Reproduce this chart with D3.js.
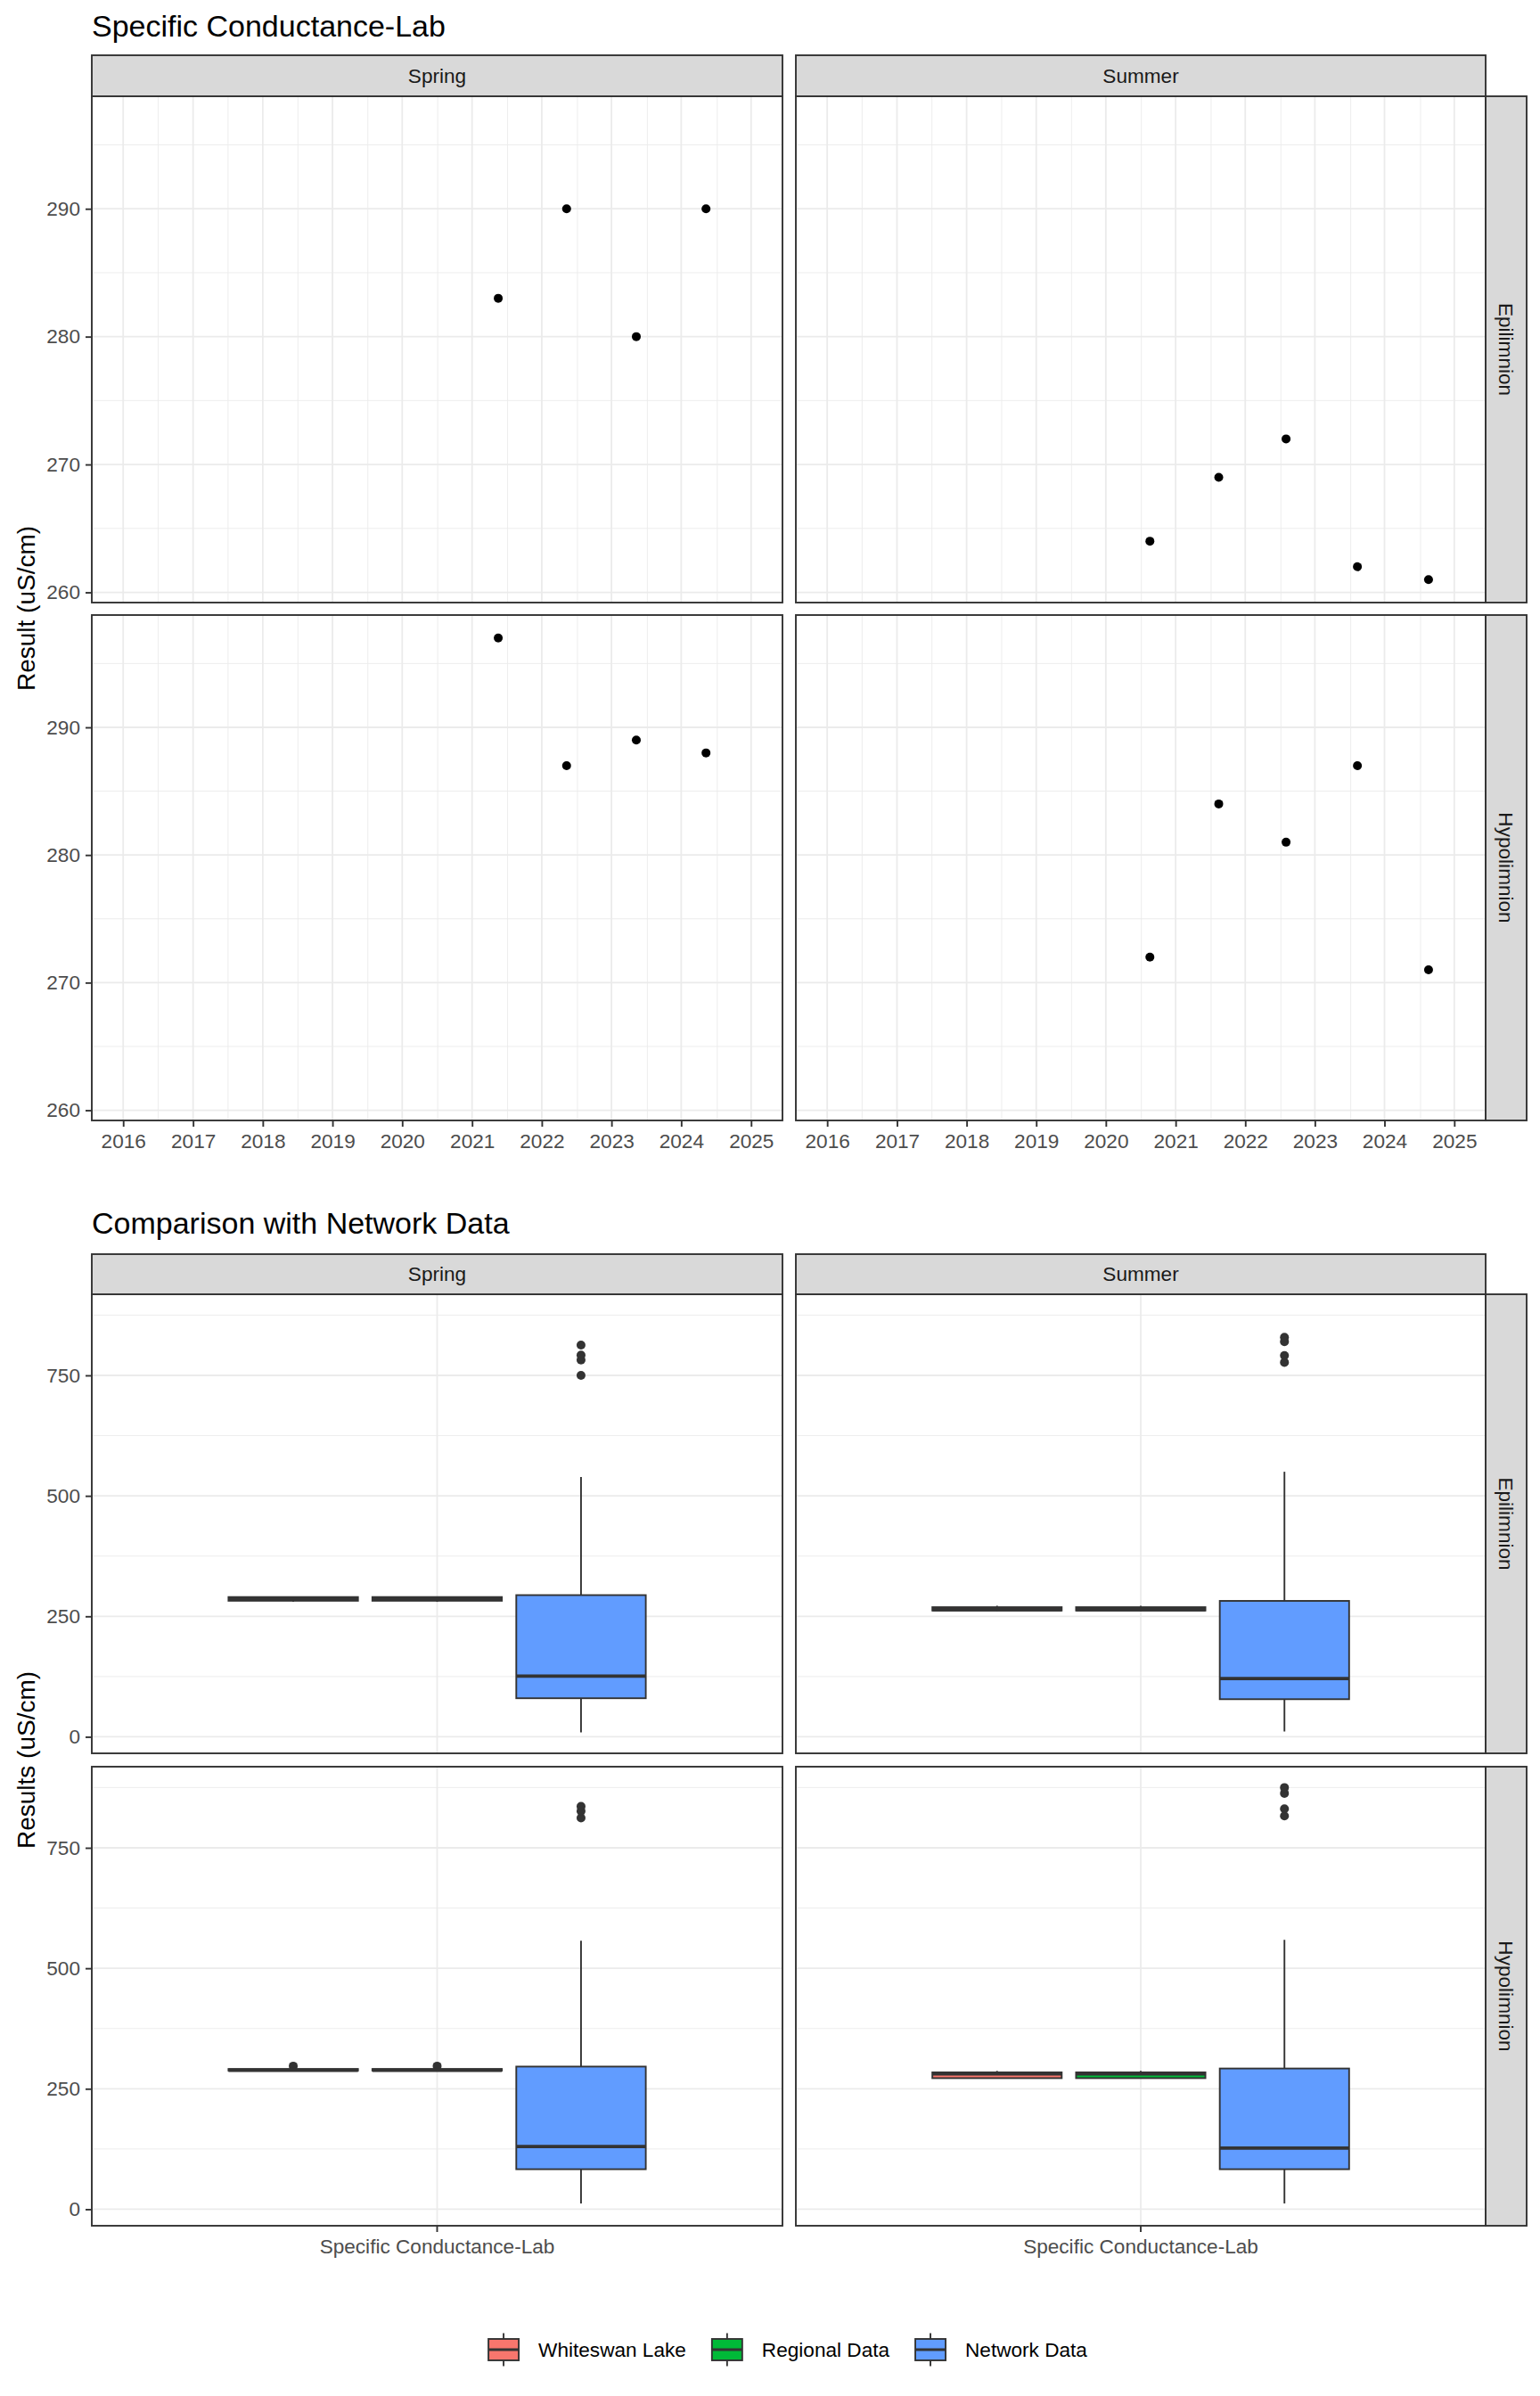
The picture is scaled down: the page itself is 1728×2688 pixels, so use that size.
<!DOCTYPE html>
<html>
<head>
<meta charset="utf-8">
<script src="https://cdn.jsdelivr.net/npm/d3@7"></script>
<style>
  body { margin: 0; background: #fff; }
  svg { display: block; }
  text { font-family: "Liberation Sans", Arial, Helvetica, sans-serif; }
</style>
</head>
<body>
<svg width="1728" height="2688"></svg>
<script>
// ---- data ----
const seasons = ['Spring', 'Summer'];
const layers = ['Epilimnion', 'Hypolimnion'];
const springDates = ['2021-05-18', '2022-05-11', '2023-05-11', '2024-05-10'];
const summerDates = ['2020-08-19', '2021-08-15', '2022-08-03', '2023-08-12', '2024-08-19'];
const springEpi = [283, 290, 280, 290];
const springHypo = [297, 287, 289, 288];
const summerEpi = [264, 269, 272, 262, 261];
const summerHypo = [272, 284, 281, 287, 271];
const yearTicks = [2016, 2017, 2018, 2019, 2020, 2021, 2022, 2023, 2024, 2025];
const resultTicks = [260, 270, 280, 290];

const parameters = ['Specific Conductance-Lab'];
const groups = ['Whiteswan Lake', 'Regional Data', 'Network Data'];
const groupColors = ['#F8766D', '#00BA38', '#619CFF'];
const comparisonTicks = [0, 250, 500, 750];
// network data summaries: [lower whisker, q1, median, q3, upper whisker]
const networkSpringEpi = [9, 80, 126, 294, 539];
const networkSpringEpiOut = [750, 782, 792, 813];
const networkSummerEpi = [11, 78, 121, 282, 550];
const networkSummerEpiOut = [777, 791, 820, 829];
const networkSpringHypo = [12, 83, 130, 296, 557];
const networkSpringHypoOut = [812, 826, 836];
const networkSummerHypo = [12, 83, 127, 292, 559];
const networkSummerHypoOut = [816, 831, 863, 875];

// ---- layout ----
const svg = d3.select('svg');
const colX = { Spring: [103, 878], Summer: [893, 1667] };
const stripRight = [1667, 1713];
const topRows = { Epilimnion: [108, 676], Hypolimnion: [690, 1257] };
const topStrip = [62, 108];
const botRows = { Epilimnion: [1452, 1967], Hypolimnion: [1982, 2497] };
const botStrip = [1407, 1452];
const border = '#333333';

svg.append('rect').attr('width', 1728).attr('height', 2688).attr('fill', '#fff');

// minor breaks half way between the major ones (as ggplot does)
function minorBreaks(ticks, domain) {
  const step = ticks[1] - ticks[0];
  const out = [];
  for (let v = ticks[0] - step / 2; v <= domain[1]; v += step) {
    if (v >= domain[0]) out.push(v);
  }
  return out;
}

function styleAxis(g) {
  g.select('.domain').remove();
  g.selectAll('.tick line').attr('stroke', border).attr('stroke-width', 1.9);
  g.selectAll('.tick text').attr('fill', '#4D4D4D').attr('font-size', 22.6);
}

function drawStrips(stripY, rows) {
  seasons.forEach(s => {
    svg.append('rect')
      .attr('x', colX[s][0]).attr('y', stripY[0])
      .attr('width', colX[s][1] - colX[s][0]).attr('height', stripY[1] - stripY[0])
      .attr('fill', '#D9D9D9').attr('stroke', border).attr('stroke-width', 1.9);
    svg.append('text')
      .attr('x', (colX[s][0] + colX[s][1]) / 2).attr('y', (stripY[0] + stripY[1]) / 2)
      .attr('dy', '0.35em').attr('text-anchor', 'middle')
      .attr('font-size', 22.6).attr('fill', '#1A1A1A').text(s);
  });
  layers.forEach(l => {
    const r = rows[l];
    svg.append('rect')
      .attr('x', stripRight[0]).attr('y', r[0])
      .attr('width', stripRight[1] - stripRight[0]).attr('height', r[1] - r[0])
      .attr('fill', '#D9D9D9').attr('stroke', border).attr('stroke-width', 1.9);
    svg.append('text')
      .attr('transform', `translate(${(stripRight[0] + stripRight[1]) / 2},${(r[0] + r[1]) / 2}) rotate(90)`)
      .attr('dy', '0.35em').attr('text-anchor', 'middle')
      .attr('font-size', 22.6).attr('fill', '#1A1A1A').text(l);
  });
}

// ================= chart 1: time series =================
svg.append('text').attr('x', 103).attr('y', 41)
  .attr('font-size', 34).attr('fill', '#000').text('Specific Conductance-Lab');

const parseDate = d3.utcParse('%Y-%m-%d');
const dateData = { Spring: springDates.map(parseDate), Summer: summerDates.map(parseDate) };
const resultData = {
  Spring: { Epilimnion: springEpi, Hypolimnion: springHypo },
  Summer: { Epilimnion: summerEpi, Hypolimnion: summerHypo }
};
const yearDates = yearTicks.map(y => new Date(Date.UTC(y, 0, 1)));
const tPad = (yearDates[yearDates.length - 1] - yearDates[0]) * 0.05;
const xDomain = [new Date(+yearDates[0] - tPad), new Date(+yearDates[yearDates.length - 1] + tPad)];
const [rMin, rMax] = d3.extent([...springEpi, ...springHypo, ...summerEpi, ...summerHypo]);
const rPad = (rMax - rMin) * 0.05;
const yDomainTop = [rMin - rPad, rMax + rPad];

seasons.forEach(s => {
  layers.forEach(l => {
    const x = d3.scaleTime().domain(xDomain).range(colX[s]);
    const y = d3.scaleLinear().domain(yDomainTop).range([topRows[l][1], topRows[l][0]]);
    const g = svg.append('g');
    const [x0, x1] = colX[s];
    const [y0, y1] = topRows[l];
    g.append('rect').attr('x', x0).attr('y', y0).attr('width', x1 - x0).attr('height', y1 - y0).attr('fill', '#fff');

    // grid
    const xMinor = minorBreaks(yearDates.map(d => +d), xDomain.map(d => +d));
    g.selectAll('.vminor').data(xMinor).enter().append('line')
      .attr('x1', d => x(d)).attr('x2', d => x(d)).attr('y1', y0).attr('y2', y1)
      .attr('stroke', '#EBEBEB').attr('stroke-width', 0.9);
    g.selectAll('.hminor').data(minorBreaks(resultTicks, yDomainTop)).enter().append('line')
      .attr('x1', x0).attr('x2', x1).attr('y1', d => y(d)).attr('y2', d => y(d))
      .attr('stroke', '#EBEBEB').attr('stroke-width', 0.9);
    g.selectAll('.vmajor').data(yearDates).enter().append('line')
      .attr('x1', d => x(d)).attr('x2', d => x(d)).attr('y1', y0).attr('y2', y1)
      .attr('stroke', '#EBEBEB').attr('stroke-width', 1.8);
    g.selectAll('.hmajor').data(resultTicks).enter().append('line')
      .attr('x1', x0).attr('x2', x1).attr('y1', d => y(d)).attr('y2', d => y(d))
      .attr('stroke', '#EBEBEB').attr('stroke-width', 1.8);

    // points
    const vals = resultData[s][l];
    g.selectAll('.pt').data(vals).enter().append('circle')
      .attr('cx', (d, i) => x(dateData[s][i])).attr('cy', d => y(d))
      .attr('r', 5).attr('fill', '#000');

    g.append('rect').attr('x', x0).attr('y', y0).attr('width', x1 - x0).attr('height', y1 - y0)
      .attr('fill', 'none').attr('stroke', border).attr('stroke-width', 1.9);

    if (s === 'Spring') {
      svg.append('g').attr('transform', `translate(${x0},0)`)
        .call(d3.axisLeft(y).tickValues(resultTicks).tickSize(7).tickPadding(6))
        .call(styleAxis);
    }
    if (l === 'Hypolimnion') {
      svg.append('g').attr('transform', `translate(0,${y1})`)
        .call(d3.axisBottom(x).tickValues(yearDates).tickFormat(d3.utcFormat('%Y')).tickSize(7).tickPadding(8))
        .call(styleAxis);
    }
  });
});
drawStrips(topStrip, topRows);

svg.append('text')
  .attr('transform', `translate(29,${(topRows.Epilimnion[0] + topRows.Hypolimnion[1]) / 2}) rotate(-90)`)
  .attr('dy', '0.35em').attr('text-anchor', 'middle')
  .attr('font-size', 28).attr('fill', '#000').text('Result (uS/cm)');

// ================= chart 2: boxplots =================
svg.append('text').attr('x', 103).attr('y', 1384)
  .attr('font-size', 34).attr('fill', '#000').text('Comparison with Network Data');

function boxStats(values) {
  const s = values.slice().sort(d3.ascending);
  const q1 = d3.quantileSorted(s, 0.25);
  const med = d3.quantileSorted(s, 0.5);
  const q3 = d3.quantileSorted(s, 0.75);
  const lo = q1 - 1.5 * (q3 - q1);
  const hi = q3 + 1.5 * (q3 - q1);
  const inside = s.filter(v => v >= lo && v <= hi);
  return { low: d3.min(inside), q1, med, q3, high: d3.max(inside), out: s.filter(v => v < lo || v > hi) };
}
function summaryStats(arr, out) {
  return { low: arr[0], q1: arr[1], med: arr[2], q3: arr[3], high: arr[4], out };
}

// Regional data holds the same lake samples as Whiteswan Lake
const boxData = {
  Spring: {
    Epilimnion: [boxStats(springEpi), boxStats(springEpi), summaryStats(networkSpringEpi, networkSpringEpiOut)],
    Hypolimnion: [boxStats(springHypo), boxStats(springHypo), summaryStats(networkSpringHypo, networkSpringHypoOut)]
  },
  Summer: {
    Epilimnion: [boxStats(summerEpi), boxStats(summerEpi), summaryStats(networkSummerEpi, networkSummerEpiOut)],
    Hypolimnion: [boxStats(summerHypo), boxStats(summerHypo), summaryStats(networkSummerHypo, networkSummerHypoOut)]
  }
};
const allBoxVals = [];
seasons.forEach(s => layers.forEach(l => boxData[s][l].forEach(b => allBoxVals.push(b.low, b.high, ...b.out))));
const [bMin, bMax] = d3.extent(allBoxVals);
const bPad = (bMax - bMin) * 0.05;
const yDomainBot = [bMin - bPad, bMax + bPad];

seasons.forEach(s => {
  layers.forEach(l => {
    const [x0, x1] = colX[s];
    const [y0, y1] = botRows[l];
    const x = d3.scaleBand().domain(parameters).range(colX[s]).paddingInner(0).paddingOuter(0.1);
    const y = d3.scaleLinear().domain(yDomainBot).range([y1, y0]);
    const cx = x(parameters[0]) + x.bandwidth() / 2;
    const xg = d3.scaleBand().domain(groups)
      .range([cx - 0.375 * x.bandwidth(), cx + 0.375 * x.bandwidth()])
      .paddingInner(0.1).paddingOuter(0.05);
    const g = svg.append('g');
    g.append('rect').attr('x', x0).attr('y', y0).attr('width', x1 - x0).attr('height', y1 - y0).attr('fill', '#fff');

    g.selectAll('.hminor').data(minorBreaks(comparisonTicks, yDomainBot)).enter().append('line')
      .attr('x1', x0).attr('x2', x1).attr('y1', d => y(d)).attr('y2', d => y(d))
      .attr('stroke', '#EBEBEB').attr('stroke-width', 0.9);
    g.selectAll('.hmajor').data(comparisonTicks).enter().append('line')
      .attr('x1', x0).attr('x2', x1).attr('y1', d => y(d)).attr('y2', d => y(d))
      .attr('stroke', '#EBEBEB').attr('stroke-width', 1.8);
    g.append('line').attr('x1', cx).attr('x2', cx).attr('y1', y0).attr('y2', y1)
      .attr('stroke', '#EBEBEB').attr('stroke-width', 1.8);

    boxData[s][l].forEach((b, i) => {
      const grp = groups[i];
      const bx = xg(grp);
      const bw = xg.bandwidth();
      const mid = bx + bw / 2;
      const bg = g.append('g');
      bg.selectAll('circle').data(b.out).enter().append('circle')
        .attr('cx', mid).attr('cy', d => y(d)).attr('r', 5).attr('fill', border);
      bg.append('line').attr('x1', mid).attr('x2', mid).attr('y1', y(b.q3)).attr('y2', y(b.high))
        .attr('stroke', border).attr('stroke-width', 1.9);
      bg.append('line').attr('x1', mid).attr('x2', mid).attr('y1', y(b.q1)).attr('y2', y(b.low))
        .attr('stroke', border).attr('stroke-width', 1.9);
      bg.append('rect').attr('x', bx).attr('y', y(b.q3)).attr('width', bw).attr('height', y(b.q1) - y(b.q3))
        .attr('fill', groupColors[i]).attr('stroke', border).attr('stroke-width', 1.9);
      bg.append('line').attr('x1', bx).attr('x2', bx + bw).attr('y1', y(b.med)).attr('y2', y(b.med))
        .attr('stroke', border).attr('stroke-width', 3.8);
    });

    g.append('rect').attr('x', x0).attr('y', y0).attr('width', x1 - x0).attr('height', y1 - y0)
      .attr('fill', 'none').attr('stroke', border).attr('stroke-width', 1.9);

    if (s === 'Spring') {
      svg.append('g').attr('transform', `translate(${x0},0)`)
        .call(d3.axisLeft(y).tickValues(comparisonTicks).tickSize(7).tickPadding(6))
        .call(styleAxis);
    }
    if (l === 'Hypolimnion') {
      svg.append('g').attr('transform', `translate(0,${y1})`)
        .call(d3.axisBottom(x).tickSize(7).tickPadding(8))
        .call(styleAxis);
    }
  });
});
drawStrips(botStrip, botRows);

svg.append('text')
  .attr('transform', `translate(29,${(botRows.Epilimnion[0] + botRows.Hypolimnion[1]) / 2}) rotate(-90)`)
  .attr('dy', '0.35em').attr('text-anchor', 'middle')
  .attr('font-size', 28).attr('fill', '#000').text('Results (uS/cm)');

// ---- legend ----
const legendY = 2636;
const legend = svg.append('g');
const items = groups.map((name, i) => {
  const it = legend.append('g');
  it.append('line').attr('x1', 17).attr('x2', 17).attr('y1', -18.5).attr('y2', 18.5)
    .attr('stroke', border).attr('stroke-width', 1.9);
  it.append('rect').attr('x', 0).attr('y', -12).attr('width', 34).attr('height', 24)
    .attr('fill', groupColors[i]).attr('stroke', border).attr('stroke-width', 1.9);
  it.append('line').attr('x1', 0).attr('x2', 34).attr('y1', 0).attr('y2', 0)
    .attr('stroke', border).attr('stroke-width', 2.8);
  const t = it.append('text').attr('x', 56).attr('dy', '0.35em')
    .attr('font-size', 22.6).attr('fill', '#000').text(name);
  return { it, w: 56 + t.node().getComputedTextLength() };
});
const gapItems = 29;
const totalW = d3.sum(items, d => d.w) + gapItems * (items.length - 1);
let lx = 884 - totalW / 2;
items.forEach(d => {
  d.it.attr('transform', `translate(${lx},${legendY})`);
  lx += d.w + gapItems;
});
</script>
</body>
</html>
